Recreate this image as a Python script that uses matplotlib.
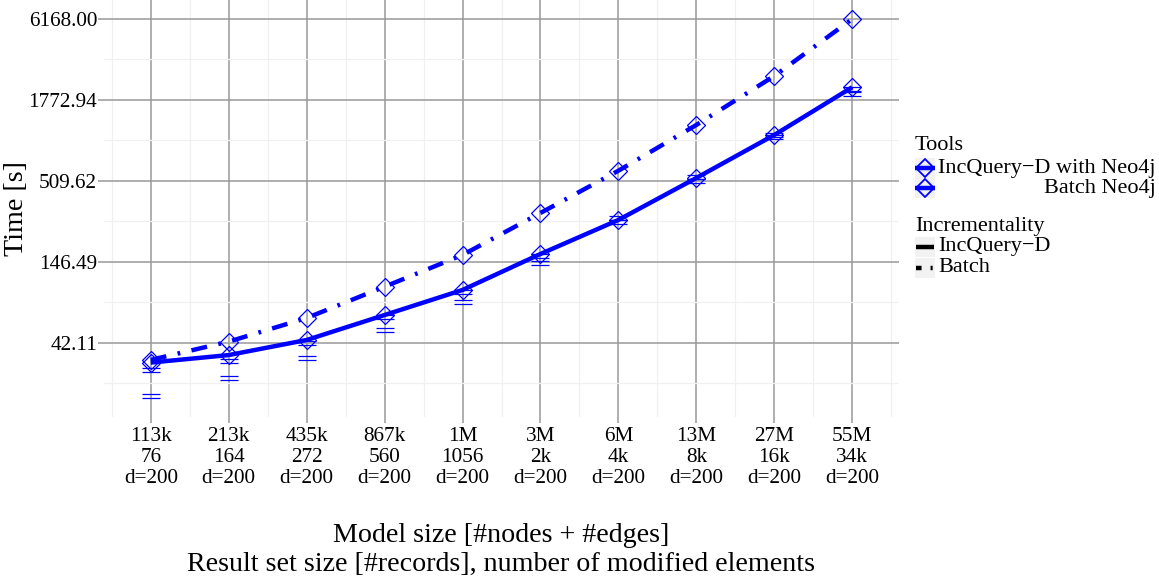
import numpy as np
import matplotlib.pyplot as plt
from matplotlib.path import Path
from matplotlib.lines import Line2D
from matplotlib.patches import Rectangle
from matplotlib.ticker import FixedLocator, NullFormatter

plt.rcParams['font.family'] = ['Liberation Serif', 'DejaVu Serif']
plt.rcParams['lines.scale_dashes'] = False

# model sizes, result set sizes and number of modified elements
sizes = ['113k', '213k', '435k', '867k', '1M', '3M', '6M', '13M', '27M', '55M']
results = ['76', '164', '272', '560', '1056', '2k', '4k', '8k', '16k', '34k']
modified = ['d=200'] * 10

# median times [s]
incquery_time = [31.0, 34.8, 43.9, 64.5, 94.9, 165.2, 279, 533, 1034, 2156]
batch_time = [32.3, 42.8, 61.6, 99.8, 162.7, 310.8, 596, 1206, 2566, 6168]
# individual incremental runs [s]
incquery_run1 = [27.7, 31.9, 42.1, 62.1, 92.4, 160.2, 289, 539, 1034, 2090]
incquery_run2 = [18.6, 24.3, 33.4, 51.2, 79.2, 143.1, 272, 511, 1002, 1935]

yticks = [42.11, 146.49, 509.62, 1772.94, 6168.00]

blue = '#0000FF'
dashdot = (0, (11.5, 8.3, 2.0, 8.3))
eq_marker = Path([(-1, 0.19), (1, 0.19), (-1, -0.19), (1, -0.19)],
                 [Path.MOVETO, Path.LINETO, Path.MOVETO, Path.LINETO])

W, H = 1159, 579
fig = plt.figure(figsize=(W / 100, H / 100), dpi=100)
ax = fig.add_axes([104 / W, (H - 417) / H, 795 / W, 417 / H])

x = np.arange(1, len(sizes) + 1)

ax.plot(x, batch_time, color=blue, lw=3.2, linestyle=dashdot,
        solid_capstyle='butt', dash_capstyle='butt', zorder=3)
ax.plot(x, incquery_time, color=blue, lw=3.2, solid_capstyle='butt', zorder=3)

for runs in (incquery_run1, incquery_run2):
    ax.plot(x, runs, linestyle='none', marker=eq_marker, markersize=13,
            markeredgecolor=blue, markerfacecolor='none', markeredgewidth=0.9,
            zorder=4)
for t in (incquery_time, batch_time):
    ax.plot(x, t, linestyle='none', marker='D', markersize=9.2,
            markeredgecolor=blue, markerfacecolor='none', markeredgewidth=0.9,
            zorder=4)

ax.set_yscale('log')
ax.set_xlim(0.4, len(sizes) + 0.6)
ax.set_ylim(13.4, 8270)

ax.set_xticks(x)
ax.set_xticklabels(['\n'.join(t) for t in zip(sizes, results, modified)],
                   linespacing=1.15)
ax.xaxis.set_minor_locator(FixedLocator(np.arange(0.5, len(sizes) + 1, 1)))

ax.set_yticks(yticks)
ax.set_yticklabels(['%.2f' % v for v in yticks])
ymin = [np.sqrt(a * b) for a, b in zip(yticks[:-1], yticks[1:])]
ymin = [yticks[0] ** 1.5 / yticks[1] ** 0.5] + ymin
ax.yaxis.set_minor_locator(FixedLocator(ymin))
ax.yaxis.set_minor_formatter(NullFormatter())

ax.tick_params(which='major', length=4, width=1.1, color='#999999',
               labelsize=15.3, labelcolor='black', pad=1)
ax.tick_params(axis='x', pad=3)
ax.tick_params(which='minor', length=0)

ax.grid(which='minor', color='#F0F0F0', lw=0.9)
ax.grid(which='major', color='#999999', lw=1.1)
ax.set_axisbelow(True)
for s in ax.spines.values():
    s.set_visible(False)

# titles and legend, placed in pixel coordinates
ov = fig.add_axes([0, 0, 1, 1], zorder=5)
ov.set_xlim(0, W)
ov.set_ylim(H, 0)
ov.axis('off')

ov.text(17, 209, 'Time [s]', rotation=90, ha='center', va='center', fontsize=20.2)
ov.text(501, 535, 'Model size [#nodes + #edges]', ha='center', va='center',
        fontsize=20.2)
ov.text(501, 564, 'Result set size [#records], number of modified elements',
        ha='center', va='center', fontsize=20.2)

leg_fs = 16
kx, kw = 915, 20
ov.text(kx, 146, 'Tools', ha='left', va='center', fontsize=leg_fs)
for yc in (168, 188):
    ov.add_patch(Rectangle((kx, yc - 10), kw, 20, color='#F2F2F2', lw=0))
    ov.add_line(Line2D([kx, kx + kw], [yc, yc], color=blue, lw=3.2,
                       solid_capstyle='butt'))
    ov.add_line(Line2D([kx + kw / 2], [yc], marker='D', markersize=9.2,
                       markeredgecolor=blue, markerfacecolor='none',
                       markeredgewidth=1.3))
t1 = ov.text(938, 168, 'IncQuery\u2212D with Neo4j', ha='left', va='center',
             fontsize=leg_fs)
fig.canvas.draw()
bb = t1.get_window_extent()
ov.text(bb.x1, 188, 'Batch Neo4j', ha='right', va='center', fontsize=leg_fs)

ov.text(kx, 227, 'Incrementality', ha='left', va='center', fontsize=leg_fs)
for yc, ls in ((247, '-'), (268, (0, (4.0, 6.5, 1.5, 8.0)))):
    ov.add_patch(Rectangle((kx, yc - 10), kw, 20, color='#F2F2F2', lw=0))
    ov.add_line(Line2D([kx + 1, kx + kw - 1], [yc, yc], color='black', lw=3.2,
                       linestyle=ls, solid_capstyle='butt', dash_capstyle='butt'))
ov.text(938, 247, 'IncQuery\u2212D', ha='left', va='center', fontsize=leg_fs)
ov.text(938, 268, 'Batch', ha='left', va='center', fontsize=leg_fs)

fig.savefig('out.png', dpi=100, facecolor='white')
